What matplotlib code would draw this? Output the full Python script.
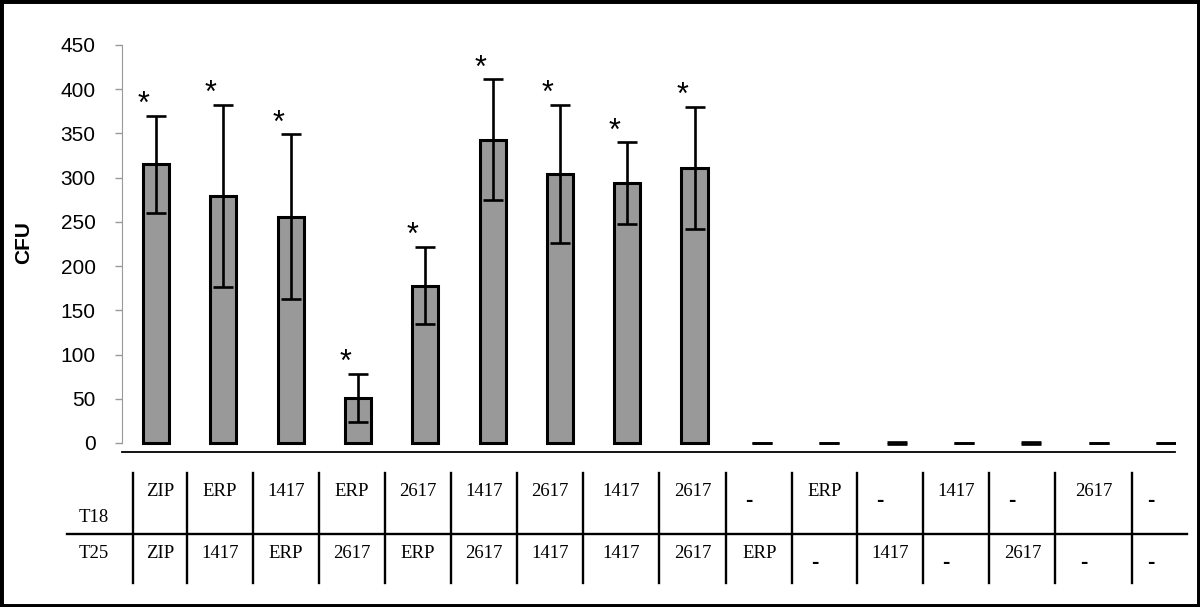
import matplotlib
matplotlib.use("Agg")
import matplotlib.pyplot as plt
import matplotlib.transforms as mtransforms
from matplotlib.patches import Rectangle

# bar data: mean CFU and error for each T18/T25 combination
cfu_mean = [315, 279, 256, 51, 178, 343, 304, 294, 311, 0, 0, 0, 0, 0, 0, 0]
cfu_err = [55, 103, 93, 27, 44, 68, 78, 46, 69, 0.3, 0.3, 1.5, 0.3, 1.5, 0.3, 0.3]
significant = [True] * 9 + [False] * 7

t18_row = ["ZIP", "ERP", "1417", "ERP", "2617", "1417", "2617", "1417", "2617",
           "-", "ERP", "-", "1417", "-", "2617", "-"]
t25_row = ["ZIP", "1417", "ERP", "2617", "ERP", "2617", "1417", "1417", "2617",
           "ERP", "-", "1417", "-", "2617", "-", "-"]
row_names = ["T18", "T25"]
yticks = [0, 50, 100, 150, 200, 250, 300, 350, 400, 450]

# table column borders (x in bar units)
col_edges = [-0.342, 0.461, 1.441, 2.422, 3.403, 4.383, 5.364, 6.345, 7.474,
             8.470, 9.450, 10.416, 11.397, 12.377, 13.358, 14.502, 15.36]

W, H = 1200, 607
fig = plt.figure(figsize=(W / 100, H / 100), dpi=100)
ax = fig.add_axes([122 / W, 1 - 452 / H, (1175 - 122) / W, (452 - 45) / H])

x = list(range(len(cfu_mean)))
bars = ax.bar(x, cfu_mean, width=0.39, color="#999999", edgecolor="black", linewidth=2.2, zorder=2)
for b, v in zip(bars, cfu_mean):
    if v == 0:
        b.set_visible(False)
ax.errorbar(x, cfu_mean, yerr=cfu_err, fmt="none", ecolor="black", elinewidth=1.9,
            capsize=7, capthick=1.9, zorder=3)

for xi, m, e, s in zip(x, cfu_mean, cfu_err, significant):
    if s:
        ax.annotate("*", (xi, m + e), xytext=(-9, 2), textcoords="offset points",
                    ha="center", va="baseline", fontsize=22, family="Liberation Sans")

ax.set_xlim(-0.505, 15.135)
ax.set_ylim(-10.2, 450)
ax.set_yticks(yticks)
ax.set_yticklabels([str(t) for t in yticks], family="Liberation Sans", fontsize=15)
ax.tick_params(axis="y", color="#999999", length=5, width=1, pad=14)
ax.set_xticks([])
for side in ["top", "right"]:
    ax.spines[side].set_visible(False)
ax.spines["left"].set_color("#999999")
ax.spines["left"].set_bounds(0, 450)
ax.spines["bottom"].set_color("black")
ax.spines["bottom"].set_linewidth(1.3)

fig.text(24 / W, 1 - 243 / H, "CFU", rotation=90, ha="center", va="center",
         fontsize=15, fontweight="bold", family="Liberation Sans")

# table below the bars
tr = mtransforms.blended_transform_factory(ax.transData, fig.transFigure)
y_top, y_bot, y_mid = 1 - 473 / H, 1 - 583 / H, 1 - 534 / H
ax.plot([-1.322, 15.32], [y_mid, y_mid], color="black", lw=1.7, transform=tr, clip_on=False)
for e in col_edges[:-1]:
    ax.plot([e, e], [y_top, y_bot], color="black", lw=1.7, transform=tr, clip_on=False)

rows = [(t18_row, 1 - 492 / H, 1 - 500 / H), (t25_row, 1 - 553 / H, 1 - 563 / H)]
for labels, y_txt, y_dash in rows:
    for i, lab in enumerate(labels):
        cx = (col_edges[i] + col_edges[i + 1]) / 2
        if lab == "-":
            ax.text(cx - 0.15, y_dash, "-", transform=tr, ha="center", va="center",
                    fontsize=16, fontweight="bold", family="Liberation Sans")
        else:
            ax.text(cx, y_txt, lab, transform=tr, ha="center", va="center",
                    fontsize=13.5, family="Liberation Serif")

ax.text(-0.921, 1 - 518 / H, row_names[0], transform=tr, ha="center", va="center",
        fontsize=13.5, family="Liberation Serif")
ax.text(-0.921, 1 - 553 / H, row_names[1], transform=tr, ha="center", va="center",
        fontsize=13.5, family="Liberation Serif")

fig.patches.append(Rectangle((0, 0), 1, 1, transform=fig.transFigure, fill=False,
                             edgecolor="black", linewidth=5))

fig.savefig("out.png", dpi=100)
